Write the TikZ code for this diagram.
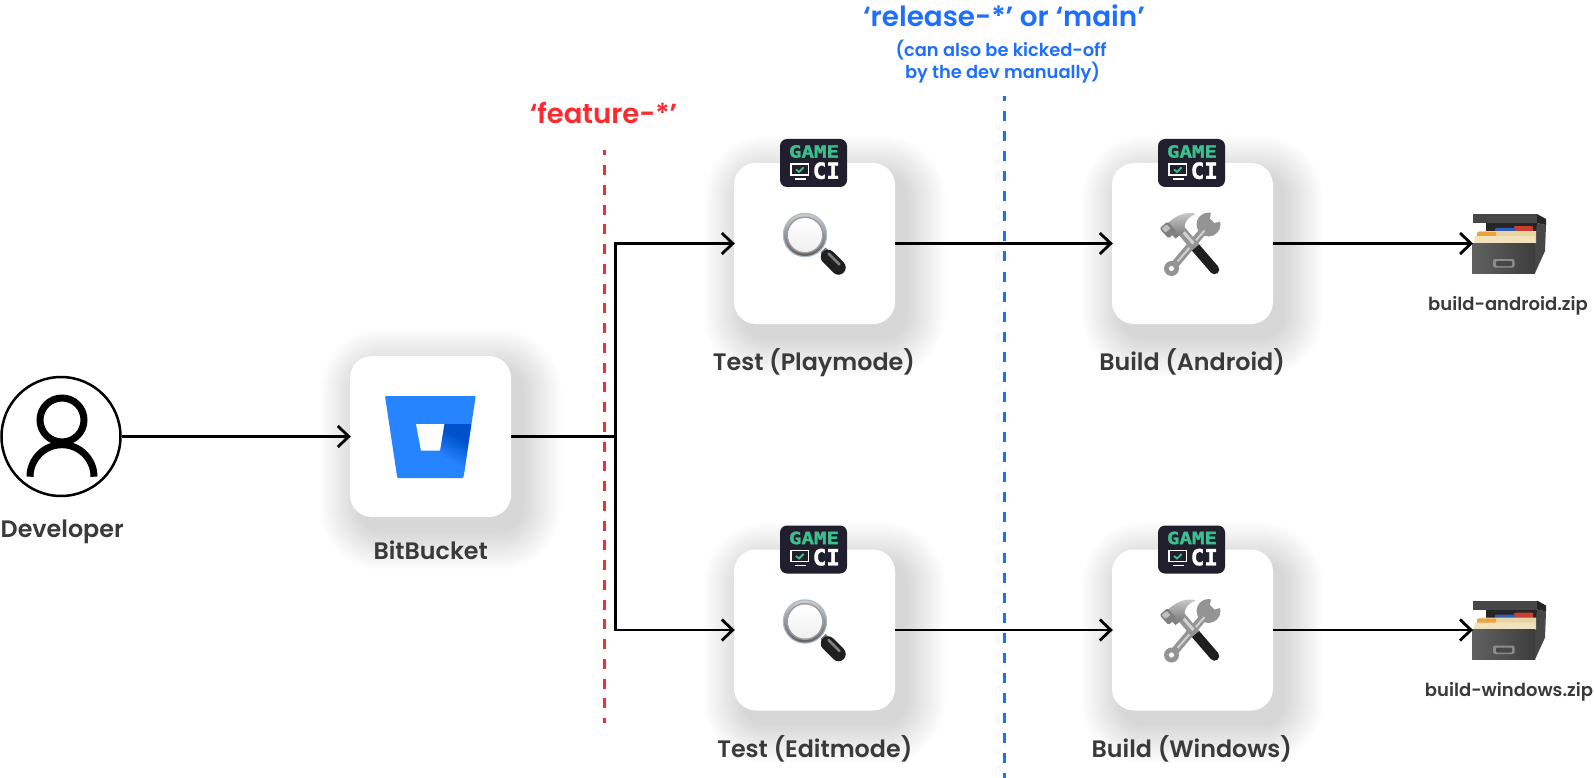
\documentclass[tikz,border=0pt]{standalone}
\usepackage{fontspec}
\usepackage{graphicx}
\setmainfont{Poppins SemiBold}
\newfontfamily\logofont{DejaVu Sans Mono Bold}[FakeBold=1.6]
\usetikzlibrary{arrows.meta,calc}
\definecolor{inkgray}{HTML}{3A3A3A}
\definecolor{redtag}{HTML}{FF2A2F}
\definecolor{bluetag}{HTML}{1F6FFF}
\definecolor{badgebg}{HTML}{211F2D}
\definecolor{gamegreen}{HTML}{3DBE8E}
\definecolor{bbblue}{HTML}{2684FF}
\definecolor{bbdark}{HTML}{0052CC}
\definecolor{filetan}{HTML}{E9D5A3}
\definecolor{filetanb}{HTML}{F1E2BC}
\definecolor{tabor}{HTML}{EFA13D}
\definecolor{tabbl}{HTML}{2F5FB8}
\definecolor{tabre}{HTML}{C8402F}
\definecolor{lensrim}{HTML}{A9BACB}
\pgfdeclarehorizontalshading{bbgrad}{100bp}{color(0bp)=(bbblue); color(42bp)=(bbblue); color(66bp)=(bbdark); color(100bp)=(bbdark)}
\tikzset{
  x=1pt,y=-1pt,
  card/.style={minimum size=161pt,inner sep=0pt,rounded corners=22pt,fill=white},
  lbl/.style={text=inkgray,font=\fontsize{23.8}{28}\selectfont,inner sep=0pt,anchor=base},
  ziplbl/.style={text=inkgray,font=\fontsize{18}{22}\selectfont,inner sep=0pt,anchor=base},
  conn/.style={draw=black,line width=2.7pt,-{Straight Barb[length=11pt,width=21pt,line width=2.8pt]},shorten >=-1pt},
  plainconn/.style={draw=black,line width=2.7pt},
  tagred/.style={line width=3.2pt,redtag,dash pattern=on 10pt off 9.75pt,dash phase=4.75pt},
  tagblue/.style={line width=3.4pt,bluetag,dash pattern=on 10pt off 10.07pt,dash phase=5.07pt},
  tagbig/.style={inner sep=0pt,anchor=base},
  tagsmall/.style={inner sep=0pt,anchor=base,text=bluetag,font=\fontsize{17.84}{22}\selectfont}
}
\newcommand{\cardshadow}[2]{%
  \foreach \i in {2,4,...,40}{%
    \fill[black,opacity=0.0085,rounded corners={22pt+\i*1pt}]
      ({#1-80.5-\i+10},{#2-80.5-\i+13}) rectangle ({#1+80.5+\i+10},{#2+80.5+\i+13});
  }}
\tikzset{
  badge/.pic={
    \fill[badgebg,rounded corners=7pt] (-33.5,-24) rectangle (33.5,24);
    \node[inner sep=0pt,text=gamegreen] (-gametext) at (0.5,-11.5) {\resizebox{50pt}{12.5pt}{\logofont GAME}};
    \node[inner sep=0pt,text=white] (-citext) at (12.8,7.7) {\resizebox{27pt}{16.5pt}{\logofont CI}};
    \draw[white,line width=1.8pt] (-22.5,1) rectangle (-5,12);
    \draw[white,line width=1.5pt] (-19,16) -- (-8,16);
    \draw[gamegreen,line width=1.8pt] (-17.5,6.5) -- (-14.5,9) -- (-10,4.5);
  },
  lens/.pic={
    \fill[black!55] (6,9) -- (11,4) -- (19,12) -- (12,19) -- cycle;
    \draw[line cap=round,line width=14.5pt,black!88] (13.5,13.5) -- (24,24);
    \draw[line cap=round,line width=2.5pt,black!50] (14,10) -- (25,21);
    \fill[lensrim] (-9.5,-8.5) circle (22.2);
    \shade[top color=black!20,bottom color=black!62] (-9.5,-8.5) circle (21);
    \shade[inner color=black!15,outer color=black!40] (-9.5,-8.5) circle (18.5);
    \shade[top color=white,bottom color=black!6] (-9.5,-8.5) circle (17);
  },
  tools/.pic={
    % wrench shaft, ring and head
    \draw[line width=8pt,black!42] (-21,25) -- (12,-14);
    \fill[black!42] (-21,25) circle (7.5);
    \fill[white] (-21,25) circle (2.6);
    \fill[black!42] (16,-19) circle (12);
    \fill[white] (19,-34) -- (17.5,-25) -- (22,-20.5) -- (31,-23) -- (31,-34) -- cycle;
    \draw[black!18,line width=2pt] (-15,18) -- (12,-13);
    % hammer handle and head
    \draw[line width=9.5pt,black!88,line cap=round] (3,4) -- (22,26);
    \draw[line width=9.5pt,black!42] (-12,-14) -- (3,4);
    \draw[line width=3pt,black!18] (-12,-15) -- (1,0);
    \shade[top color=black!20,bottom color=black!55]
      (-24,-21) .. controls (-14,-30) and (-4,-32) .. (3.5,-29.5)
      .. controls (-4,-27) and (-9,-22) .. (-8,-12) -- (-17,-5) -- (-25,-13) -- cycle;
    \fill[black!50,rounded corners=1.5pt] (-33,-15) -- (-25,-22) -- (-16,-12) -- (-24,-5) -- cycle;
    \fill[black!25,rounded corners=1pt] (-31,-15) -- (-26,-19) -- (-22,-15) -- (-27,-11) -- cycle;
  },
  filebox/.pic={
    % local units: px, origin at the left mouth of the drawer
    \fill[black!85] (14,-21) rectangle (65,0);
    \fill[black!72] (65,-20) -- (74,-18) -- (73,8) -- (63,30) -- (63,0) -- cycle;
    \fill[black!72] (1,-29) rectangle (65,-20);
    \fill[black!85] (65,-29) -- (74,-24) -- (74,-18) -- (65,-20) -- cycle;
    \fill[tabre,rounded corners=1pt] (42,-17) rectangle (61,-10);
    \fill[tabbl,rounded corners=1pt] (23,-15) rectangle (43,-9);
    \fill[filetan] (7,-12) -- (64,-12) -- (64,0) -- (2,0) -- cycle;
    \fill[tabor,rounded corners=1pt] (5,-11) rectangle (24,-5);
    \fill[filetanb] (3,-7) -- (63,-7) -- (63,0) -- (2,0) -- cycle;
    \shade[left color=black!62,right color=black!76] (0,0) rectangle (63,30);
    \fill[black!45,rounded corners=2pt] (21,16) rectangle (42.5,24.5);
    \fill[black!72,rounded corners=1pt] (24,18) rectangle (40,23);
  }
}
\begin{document}
\begin{tikzpicture}
\useasboundingbox (0,0) rectangle (1594,778);
\fill[white] (0,0) rectangle (1594,778);
% soft card shadows
\cardshadow{430.5}{436.5}
\cardshadow{814.5}{243.5}
\cardshadow{1192.5}{243.5}
\cardshadow{814.5}{630}
\cardshadow{1192.5}{630}
% tag lines
\coordinate (redtop) at (604.3,150);
\coordinate (redbot) at (604.3,723);
\coordinate (bluetop) at (1004.5,96);
\coordinate (bluebot) at (1004.5,778);
\draw[tagred] (redtop) -- (redbot);
\draw[tagblue] (bluetop) -- (bluebot);
% cards
\node[card] (bb) at (430.5,436.5) {};
\node[card] (t1) at (814.5,243.5) {};
\node[card] (b1) at (1192.5,243.5) {};
\node[card] (t2) at (814.5,630) {};
\node[card] (b2) at (1192.5,630) {};
% developer
\node[circle,draw=black,line width=2.5pt,fill=white,minimum size=119pt,inner sep=0pt] (dev) at (61,436.5) {};
\draw[black,line width=7pt] (62,420) circle (22);
\draw[black,line width=7pt] (30,476.7) arc[start angle=180,end angle=360,radius=32];
% bitbucket logo
\fill[bbblue,rounded corners=1pt]
  (385,396) -- (475.7,396) -- (463.3,478) -- (397.3,478) -- cycle;
\shade[shading=bbgrad,shading angle=62]
  (444.3,424) -- (471.3,424) -- (463.8,475) -- (422,475) -- (421,450.7) -- (440,450.7) -- cycle;
\fill[white] (416,424) -- (444.3,424) -- (440,450.7) -- (421,450.7) -- cycle;
% icons
\pic (lensa) at (814.5,243.5) {lens};
\pic (lensb) at (814.5,630) {lens};
\pic (toola) at (1192.5,243.5) {tools};
\pic (toolb) at (1192.5,630) {tools};
\pic (ba) at (813.5,163) {badge};
\pic (bb2) at (1191.5,163) {badge};
\pic (bc) at (813.5,549.5) {badge};
\pic (bd) at (1191.5,549.5) {badge};
\pic (boxa) at (1472,243) {filebox};
\pic (boxb) at (1472,629.5) {filebox};
\coordinate (za) at (1472,243.5);
\coordinate (zb) at (1472,630);
% connectors
\coordinate (split) at (615.7,436.5);
\draw[conn] (dev.east) -- (bb.west);
\draw[plainconn] (bb.east) -- (split);
\draw[conn] (split) |- (t1.west);
\draw[conn] (split) |- (t2.west);
\draw[conn] (t1.east) -- (b1.west);
\draw[conn] (t2.east) -- (b2.west);
\draw[conn] (b1.east) -- (za);
\draw[conn] (b2.east) -- (zb);
% labels
\node[lbl] (ldev) at (62.2,537.5) {Developer};
\node[lbl] (lbb) at (430.7,559.3) {BitBucket};
\node[lbl] (lt1) at (813.9,370) {Test (Playmode)};
\node[lbl] (lb1) at (1192.1,370) {Build (Android)};
\node[lbl] (lt2) at (814.8,757) {Test (Editmode)};
\node[lbl] (lb2) at (1191.8,757) {Build (Windows)};
\node[ziplbl] (lz1) at (1508,310) {build-android.zip};
\node[ziplbl] (lz2) at (1509,696) {build-windows.zip};
\node[tagbig,text=redtag,font=\fontsize{27.5}{30}\selectfont] (lred) at (603.5,123.7) {‘feature-*’};
\node[tagbig,text=bluetag,font=\fontsize{27.8}{30}\selectfont] (lblue) at (1004,26.7) {‘release-*’ or ‘main’};
\node[tagsmall] (lblue2) at (1001,56.5) {(can also be kicked-off};
\node[tagsmall] (lblue3) at (1002.5,78.3) {by the dev manually)};
\end{tikzpicture}
\end{document}
